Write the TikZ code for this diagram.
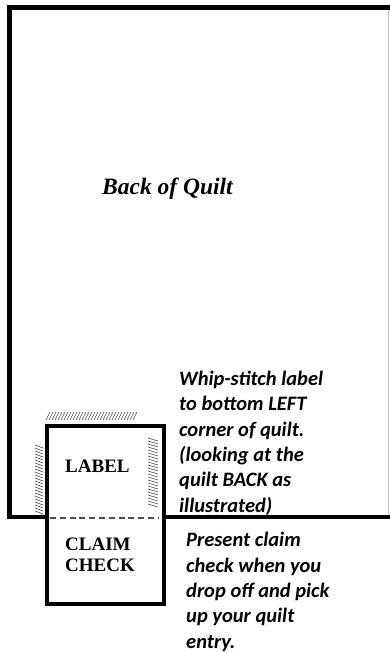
\documentclass[tikz,border=0pt]{standalone}
\usepackage{fontspec}
\setmainfont{Liberation Serif}
\newfontfamily\calib{Carlito}
\begin{document}
\begin{tikzpicture}[x=1pt,y=-1pt,
  border/.style={line width=4.6pt,line join=miter},
  hatch/.style={draw=black!70,line width=0.6pt},
  serifbold/.style={font=\fontsize{19}{21}\selectfont\bfseries,inner sep=0pt},
  note/.style={font=\calib\fontsize{20.5}{25.3}\selectfont\bfseries\itshape,align=left,inner sep=0pt}]
\useasboundingbox (0,0) rectangle (389,652);
% quilt
\coordinate (qtr) at (391,7.5);
\coordinate (qtl) at (9.5,7.5);
\coordinate (qbl) at (9.5,517);
\coordinate (qbr) at (391,517);
\draw[border] (qtr) -- (qtl) -- (qbl) -- (45,517);
\draw[border] (162,517) -- (qbr);
\draw[black!25,line width=0.8pt] (388,10) -- (388,515);
% label
\node[draw,line width=4.4pt,minimum width=117pt,minimum height=178pt,anchor=north west,inner sep=0pt] (lab) at (45,424) {};
\draw[black!70,line width=1.6pt,dash pattern=on 6pt off 3.8pt] (50,518) -- (159,518);
% hatches
\foreach \i in {0,...,29} \draw[hatch] (46+3*\i,420) -- (50+3*\i,412);
\foreach \i in {0,...,22} \draw[hatch] (35,445+3*\i) -- (43,448+3*\i);
\foreach \i in {0,...,22} \draw[hatch] (148,438+3*\i) -- (158,441+3*\i);
% texts
\node[font=\fontsize{23.5}{28}\selectfont\bfseries\itshape,anchor=base west,inner sep=0pt] (title) at (102,195) {Back of Quilt};
\node[serifbold,anchor=base west] (labtxt) at (65,472) {LABEL};
\node[serifbold,anchor=base west,align=left] (claim) at (65,571) {CLAIM\\CHECK};
\node[note,anchor=base west] (n1) at (179,512) {Whip-stitch label\\to bottom LEFT\\corner of quilt.\\(looking at the\\quilt BACK as\\illustrated)};
\node[note,anchor=base west] (n2) at (186,648) {Present claim\\check when you\\drop off and pick\\up your quilt\\entry.};
\end{tikzpicture}
\end{document}
